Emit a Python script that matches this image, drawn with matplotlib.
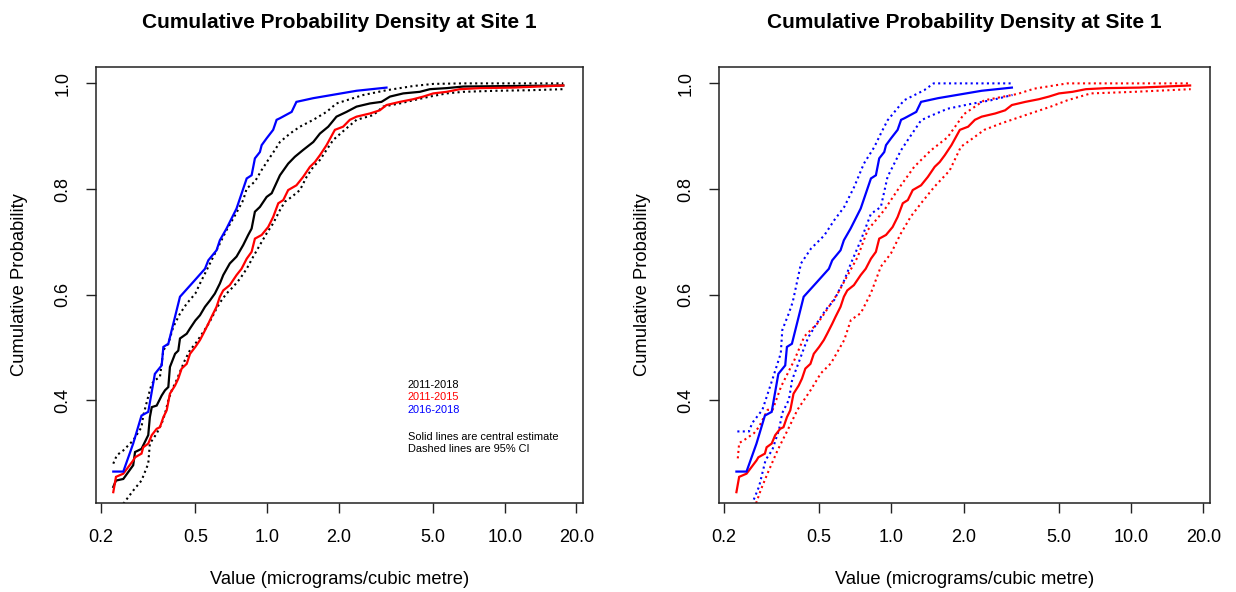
import matplotlib
matplotlib.use("Agg")
import matplotlib.pyplot as plt

plt.rcParams["font.family"] = ["Liberation Sans", "DejaVu Sans"]

# central estimates (ECDF)
all_x = [0.226, 0.232, 0.249, 0.274, 0.279, 0.297, 0.317, 0.322, 0.328, 0.344,
         0.361, 0.373, 0.385, 0.391, 0.411, 0.424, 0.431, 0.460, 0.475, 0.500,
         0.523, 0.549, 0.576, 0.604, 0.634, 0.655, 0.698, 0.745, 0.795, 0.834,
         0.862, 0.890, 0.934, 0.997, 1.047, 1.134, 1.228, 1.31, 1.42, 1.566,
         1.67, 1.81, 1.96, 2.16, 2.38, 2.71, 3.03, 3.29, 3.74, 4.39,
         4.84, 5.69, 6.68, 10.8, 17.6]
all_y = [0.236, 0.248, 0.251, 0.277, 0.302, 0.308, 0.334, 0.368, 0.387, 0.390,
         0.409, 0.419, 0.425, 0.463, 0.488, 0.494, 0.517, 0.526, 0.536, 0.551,
         0.561, 0.577, 0.589, 0.602, 0.621, 0.637, 0.659, 0.672, 0.694, 0.713,
         0.725, 0.757, 0.766, 0.785, 0.792, 0.826, 0.848, 0.861, 0.874, 0.889,
         0.905, 0.918, 0.937, 0.946, 0.956, 0.962, 0.965, 0.975, 0.981, 0.984,
         0.989, 0.991, 0.994, 0.995, 0.996]

red_x = [0.226, 0.232, 0.249, 0.274, 0.279, 0.297, 0.302, 0.317, 0.328, 0.344,
         0.355, 0.367, 0.379, 0.391, 0.411, 0.424, 0.438, 0.460, 0.475, 0.500,
         0.523, 0.540, 0.567, 0.585, 0.614, 0.634, 0.655, 0.698, 0.745, 0.782,
         0.822, 0.862, 0.890, 0.950, 1.012, 1.062, 1.116, 1.171, 1.228, 1.33,
         1.42, 1.516, 1.59, 1.67, 1.78, 1.93, 2.09, 2.23, 2.38, 2.71,
         2.98, 3.18, 3.62, 4.12, 4.54, 5.0, 5.69, 6.47, 7.85, 10.8, 17.6]
red_y = [0.226, 0.255, 0.261, 0.286, 0.292, 0.299, 0.311, 0.318, 0.334, 0.346,
         0.349, 0.368, 0.381, 0.4125, 0.428, 0.441, 0.460, 0.469, 0.488, 0.501,
         0.514, 0.526, 0.545, 0.558, 0.577, 0.596, 0.608, 0.618, 0.637, 0.649,
         0.668, 0.681, 0.706, 0.713, 0.728, 0.747, 0.773, 0.779, 0.798, 0.807,
         0.823, 0.842, 0.851, 0.864, 0.883, 0.912, 0.918, 0.931, 0.937, 0.943,
         0.949, 0.959, 0.965, 0.970, 0.975, 0.981, 0.984, 0.989, 0.991, 0.992, 0.996]

blue_x = [0.226, 0.249, 0.274, 0.297, 0.317, 0.338, 0.361, 0.367, 0.385, 0.431,
          0.490, 0.549, 0.567, 0.614, 0.634, 0.676, 0.745, 0.822, 0.862, 0.890,
          0.934, 0.950, 0.997, 1.062, 1.098, 1.134, 1.27, 1.33, 1.566, 2.38, 3.18]
blue_y = [0.265, 0.265, 0.318, 0.371, 0.378, 0.450, 0.466, 0.501, 0.507, 0.596,
          0.624, 0.649, 0.665, 0.684, 0.703, 0.725, 0.763, 0.820, 0.826, 0.858,
          0.870, 0.883, 0.896, 0.912, 0.931, 0.934, 0.946, 0.965, 0.972, 0.986, 0.992]

# 95% confidence bounds
all_hi_x = [0.226, 0.234, 0.249, 0.274, 0.297, 0.302, 0.322, 0.328, 0.338, 0.355,
            0.367, 0.385, 0.404, 0.431, 0.460, 0.500, 0.523, 0.549, 0.576, 0.614,
            0.644, 0.676, 0.734, 0.795, 0.822, 0.890, 0.950, 1.012, 1.08, 1.134,
            1.25, 1.376, 1.566, 1.78, 1.96, 2.16, 2.54, 3.18, 4.12, 5.0,
            6.68, 10.8, 17.6]
all_hi_y = [0.280, 0.296, 0.305, 0.324, 0.349, 0.371, 0.419, 0.431, 0.438, 0.444,
            0.495, 0.507, 0.539, 0.564, 0.583, 0.602, 0.621, 0.640, 0.659, 0.684,
            0.703, 0.722, 0.750, 0.779, 0.801, 0.814, 0.836, 0.855, 0.874, 0.889,
            0.905, 0.918, 0.931, 0.946, 0.962, 0.968, 0.978, 0.987, 0.995, 0.999,
            1.0, 1.0, 1.0]
all_lo_x = [0.249, 0.274, 0.297, 0.317, 0.322, 0.344, 0.361, 0.373, 0.385, 0.398,
            0.417, 0.431, 0.452, 0.475, 0.500, 0.523, 0.558, 0.585, 0.614, 0.644,
            0.676, 0.722, 0.770, 0.822, 0.876, 0.934, 0.997, 1.062, 1.134, 1.19,
            1.27, 1.376, 1.468, 1.566, 1.67, 1.78, 1.90, 2.16, 2.38, 2.80,
            3.08, 3.62, 4.12, 4.84, 5.69, 6.68, 9.2, 12.7, 17.6]
all_lo_y = [0.204, 0.229, 0.248, 0.280, 0.318, 0.337, 0.356, 0.375, 0.400, 0.419,
            0.438, 0.454, 0.476, 0.495, 0.507, 0.520, 0.539, 0.555, 0.574, 0.589,
            0.602, 0.615, 0.630, 0.649, 0.672, 0.694, 0.716, 0.735, 0.760, 0.776,
            0.785, 0.798, 0.823, 0.842, 0.855, 0.874, 0.893, 0.915, 0.931, 0.940,
            0.956, 0.962, 0.968, 0.975, 0.981, 0.984, 0.986, 0.987, 0.989]

red_hi_x = [0.229, 0.232, 0.244, 0.268, 0.281, 0.305, 0.320, 0.347, 0.394, 0.434,
            0.493, 0.525, 0.597, 0.723, 0.796, 0.934, 1.062, 1.245, 1.46, 1.716,
            2.01, 2.44, 3.36, 3.94, 5.42, 7.46, 17.7]
red_hi_y = [0.290, 0.319, 0.325, 0.338, 0.350, 0.382, 0.382, 0.426, 0.476, 0.521,
            0.546, 0.564, 0.602, 0.671, 0.722, 0.760, 0.798, 0.842, 0.873, 0.898,
            0.942, 0.968, 0.980, 0.990, 1.0, 1.0, 1.0]
red_lo_x = [0.273, 0.286, 0.305, 0.336, 0.370, 0.406, 0.462, 0.508, 0.560, 0.636,
            0.678, 0.746, 0.822, 0.904, 0.996, 1.096, 1.206, 1.33, 1.51, 1.75,
            1.95, 2.14, 2.44, 2.86, 3.47, 4.62, 5.42, 6.78, 10.3, 17.7]
red_lo_y = [0.205, 0.231, 0.262, 0.306, 0.344, 0.382, 0.420, 0.451, 0.470, 0.514,
            0.552, 0.565, 0.603, 0.653, 0.678, 0.716, 0.748, 0.773, 0.804, 0.835,
            0.880, 0.893, 0.912, 0.924, 0.937, 0.956, 0.968, 0.981, 0.984, 0.989]

blue_hi_x = [0.228, 0.255, 0.263, 0.290, 0.309, 0.319, 0.346, 0.351, 0.374, 0.388,
             0.420, 0.462, 0.525, 0.578, 0.636, 0.70, 0.768, 0.848, 0.904, 0.964,
             1.13, 1.37, 1.50, 2.6, 3.15]
blue_hi_y = [0.341, 0.341, 0.357, 0.382, 0.420, 0.439, 0.489, 0.533, 0.565, 0.586,
             0.659, 0.687, 0.712, 0.741, 0.766, 0.804, 0.848, 0.879, 0.905, 0.930,
             0.968, 0.987, 1.0, 1.0, 1.0]
blue_lo_x = [0.267, 0.281, 0.299, 0.319, 0.340, 0.351, 0.374, 0.386, 0.405, 0.440,
             0.453, 0.499, 0.532, 0.578, 0.636, 0.678, 0.746, 0.822, 0.904, 0.964,
             1.096, 1.168, 1.33, 1.416, 1.716, 2.14, 2.6, 3.2]
blue_lo_y = [0.212, 0.237, 0.287, 0.306, 0.344, 0.376, 0.401, 0.439, 0.464, 0.508,
             0.521, 0.552, 0.571, 0.590, 0.627, 0.659, 0.703, 0.753, 0.766, 0.823,
             0.873, 0.892, 0.930, 0.936, 0.952, 0.961, 0.968, 0.978]

x_ticks = [0.2, 0.5, 1.0, 2.0, 5.0, 10.0, 20.0]
x_ticklabels = ["0.2", "0.5", "1.0", "2.0", "5.0", "10.0", "20.0"]
y_ticks = [0.4, 0.6, 0.8, 1.0]
y_ticklabels = ["0.4", "0.6", "0.8", "1.0"]
title = "Cumulative Probability Density at Site 1"
legend_lines = [("2011-2018", "black"), ("2011-2015", "red"), ("2016-2018", "blue")]

W, H = 1236, 592
fig = plt.figure(figsize=(W / 100, H / 100), dpi=100)
ax1 = fig.add_axes([96 / W, 89 / H, 487 / W, 436 / H])
ax2 = fig.add_axes([719 / W, 89 / H, 491 / W, 436 / H])

solid = dict(lw=1.6, solid_joinstyle="miter")
dotted = dict(lw=1.5, linestyle=(0, (1, 1.6)))

ax1.plot(all_hi_x, all_hi_y, color="black", **dotted)
ax1.plot(all_lo_x, all_lo_y, color="black", **dotted)
ax1.plot(all_x, all_y, color="black", **solid)
ax1.plot(red_x, red_y, color="red", **solid)
ax1.plot(blue_x, blue_y, color="blue", **solid)

ax2.plot(blue_hi_x, blue_hi_y, color="blue", **dotted)
ax2.plot(blue_lo_x, blue_lo_y, color="blue", **dotted)
ax2.plot(red_hi_x, red_hi_y, color="red", **dotted)
ax2.plot(red_lo_x, red_lo_y, color="red", **dotted)
ax2.plot(red_x, red_y, color="red", **solid)
ax2.plot(blue_x, blue_y, color="blue", **solid)

for ax in (ax1, ax2):
    ax.set_xscale("log")
    ax.set_xlim(0.1912, 21.3)
    ax.set_ylim(0.2055, 1.031)
    ax.set_xticks(x_ticks)
    ax.set_xticklabels(x_ticklabels)
    ax.minorticks_off()
    ax.set_yticks(y_ticks)
    ax.set_yticklabels(y_ticklabels, rotation=90, va="center")
    ax.tick_params(direction="out", length=7.5, width=1, labelsize=13, color="#222222")
    ax.tick_params(axis="x", pad=11)
    ax.tick_params(axis="y", pad=10)
    for s in ax.spines.values():
        s.set_linewidth(1.1)
        s.set_color("#222222")
    ax.set_xlabel("Value (micrograms/cubic metre)", fontsize=13.2)
    ax.xaxis.set_label_coords(0.5, -77 / 436)
    ax.xaxis.label.set_va("center")
    ax.set_ylabel("Cumulative Probability", fontsize=13.2)
    ax.yaxis.set_label_coords(-76 / 487, 0.5)
    ax.yaxis.label.set_va("center")
    ax.text(0.5, 1 + 45 / 436, title, transform=ax.transAxes, ha="center",
            va="center", fontsize=15, fontweight="bold")

# annotation block in the left panel
ty = 0.429
for label, col in legend_lines:
    ax1.text(3.9, ty, label, color=col, fontsize=7.9, ha="left", va="center")
    ty -= 0.0235
ax1.text(3.9, 0.331, "Solid lines are central estimate", fontsize=7.9, ha="left", va="center")
ax1.text(3.9, 0.307, "Dashed lines are 95% CI", fontsize=7.9, ha="left", va="center")

fig.savefig("out.png", dpi=100)
